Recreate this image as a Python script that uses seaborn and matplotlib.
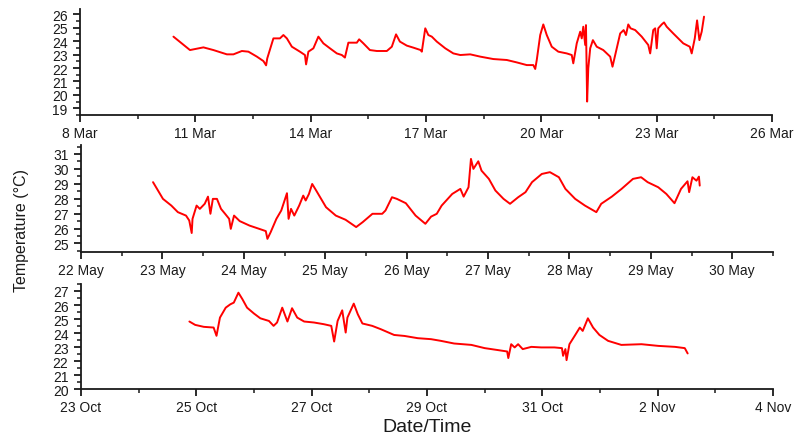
import numpy as np
import pandas as pd
import matplotlib
matplotlib.use("Agg")
import matplotlib.pyplot as plt
import matplotlib.dates as mdates
from matplotlib.ticker import FixedLocator, MultipleLocator, FuncFormatter
import seaborn as sns

# ---------------- data (days after panel start date, temperature in degC) -------------
mar_start = "2018-03-08"
mar_days = [2.43, 2.86, 3.21, 3.47, 3.82, 3.99, 4.21, 4.38, 4.60, 4.77,
            4.84, 4.87, 5.03, 5.20, 5.29, 5.38, 5.51, 5.72, 5.85, 5.88,
            5.94, 6.07, 6.20, 6.33, 6.50, 6.68, 6.81, 6.89, 6.98, 7.20,
            7.26, 7.37, 7.54, 7.72, 7.98, 8.11, 8.22, 8.32, 8.50, 8.67,
            8.86, 8.89, 8.98, 9.06, 9.15, 9.28, 9.50, 9.71, 9.89, 10.15,
            10.41, 10.75, 11.10, 11.36, 11.62, 11.79, 11.84, 11.88, 11.97, 12.05,
            12.14, 12.27, 12.44, 12.66, 12.79, 12.83, 12.92, 13.01, 13.05, 13.09,
            13.14, 13.16, 13.19, 13.22, 13.27, 13.34, 13.44, 13.61, 13.79, 13.85,
            13.92, 14.05, 14.14, 14.20, 14.26, 14.32, 14.44, 14.61, 14.78, 14.83,
            14.91, 14.96, 15.00, 15.04, 15.13, 15.19, 15.26, 15.43, 15.69, 15.86,
            15.91, 15.99, 16.05, 16.11, 16.17, 16.23]
mar_temp = [24.34, 23.34, 23.54, 23.34, 23.02, 23.02, 23.27, 23.22, 22.85, 22.52,
            22.20, 22.72, 24.21, 24.21, 24.46, 24.21, 23.59, 23.22, 22.97, 22.27,
            23.22, 23.47, 24.34, 23.84, 23.47, 23.09, 22.97, 22.78, 23.89, 23.89,
            24.14, 23.84, 23.34, 23.27, 23.27, 23.59, 24.51, 23.97, 23.67, 23.52,
            23.34, 23.22, 24.96, 24.46, 24.34, 23.97, 23.47, 23.09, 22.97, 23.02,
            22.85, 22.67, 22.60, 22.42, 22.22, 22.22, 21.93, 22.60, 24.46, 25.25,
            24.46, 23.59, 23.22, 23.09, 22.97, 22.35, 23.84, 24.71, 24.21, 25.08,
            23.72, 25.20, 19.50, 21.98, 23.47, 24.08, 23.59, 23.34, 22.85, 22.10,
            22.97, 24.58, 24.83, 24.46, 25.25, 24.96, 24.83, 24.34, 23.72, 23.09,
            24.83, 24.96, 23.47, 24.96, 25.25, 25.40, 25.08, 24.58, 23.84, 23.59,
            23.09, 24.21, 25.55, 24.08, 24.71, 25.83]

may_start = "2018-05-22"
may_days = [0.885, 1.007, 1.11, 1.19, 1.29, 1.33, 1.36, 1.37, 1.42, 1.46,
            1.52, 1.56, 1.59, 1.62, 1.67, 1.72, 1.77, 1.82, 1.84, 1.88,
            1.95, 2.07, 2.19, 2.27, 2.29, 2.33, 2.40, 2.46, 2.53, 2.55,
            2.58, 2.62, 2.68, 2.73, 2.76, 2.80, 2.84, 2.89, 3.01, 3.13,
            3.25, 3.38, 3.46, 3.58, 3.70, 3.74, 3.82, 3.88, 3.99, 4.11,
            4.23, 4.30, 4.37, 4.43, 4.56, 4.66, 4.70, 4.76, 4.79, 4.82,
            4.88, 4.92, 5.01, 5.09, 5.19, 5.27, 5.37, 5.46, 5.54, 5.66,
            5.76, 5.87, 5.95, 6.07, 6.19, 6.33, 6.39, 6.52, 6.64, 6.78,
            6.88, 6.96, 7.09, 7.19, 7.29, 7.37, 7.45, 7.47, 7.51, 7.56,
            7.59, 7.60]
may_temp = [29.11, 27.99, 27.54, 27.10, 26.87, 26.54, 25.70, 26.65, 27.54, 27.32,
            27.66, 28.14, 26.99, 27.99, 27.99, 27.32, 26.99, 26.65, 25.98, 26.87,
            26.50, 26.20, 25.98, 25.83, 25.31, 25.76, 26.65, 27.21, 28.37, 26.65,
            27.32, 26.87, 27.54, 28.21, 27.88, 28.32, 28.99, 28.54, 27.43, 26.87,
            26.59, 26.10, 26.43, 26.99, 26.99, 27.21, 28.10, 27.99, 27.70, 26.87,
            26.32, 26.80, 26.99, 27.54, 28.32, 28.66, 28.14, 28.77, 30.67, 30.00,
            30.51, 29.88, 29.33, 28.55, 27.99, 27.66, 28.10, 28.44, 29.11, 29.66,
            29.78, 29.44, 28.66, 27.99, 27.54, 27.10, 27.66, 28.14, 28.66, 29.33,
            29.44, 29.11, 28.77, 28.32, 27.70, 28.66, 29.17, 28.44, 29.44, 29.21,
            29.48, 28.88]

oct_start = "2018-10-23"
oct_days = [1.88, 1.98, 2.13, 2.30, 2.35, 2.41, 2.51, 2.59, 2.65, 2.73,
            2.80, 2.88, 3.00, 3.11, 3.26, 3.34, 3.40, 3.49, 3.58, 3.66,
            3.75, 3.87, 4.04, 4.21, 4.34, 4.39, 4.45, 4.53, 4.59, 4.62,
            4.73, 4.80, 4.88, 5.05, 5.20, 5.43, 5.61, 5.84, 6.07, 6.24,
            6.47, 6.77, 7.00, 7.23, 7.39, 7.41, 7.46, 7.52, 7.58, 7.66,
            7.81, 7.98, 8.21, 8.34, 8.36, 8.40, 8.42, 8.47, 8.56, 8.65,
            8.70, 8.79, 8.88, 8.99, 9.14, 9.37, 9.72, 10.01, 10.30, 10.47,
            10.52]
oct_temp = [24.82, 24.58, 24.44, 24.39, 23.80, 25.10, 25.81, 26.05, 26.17, 26.88,
            26.41, 25.81, 25.39, 25.05, 24.86, 24.51, 24.75, 25.81, 24.82, 25.77,
            25.10, 24.82, 24.75, 24.63, 24.51, 23.39, 24.86, 25.62, 24.03, 25.10,
            26.10, 25.34, 24.68, 24.51, 24.27, 23.86, 23.79, 23.63, 23.56, 23.44,
            23.25, 23.15, 22.92, 22.78, 22.68, 22.21, 23.20, 22.97, 23.20, 22.85,
            23.01, 22.97, 22.97, 22.92, 22.37, 22.85, 22.06, 23.20, 23.79, 24.39,
            24.15, 25.05, 24.39, 23.86, 23.44, 23.15, 23.20, 23.08, 23.01, 22.92,
            22.54]

# y tick values per panel
mar_yticks = [19, 20, 21, 22, 23, 24, 25, 26]
may_yticks = [25, 26, 27, 28, 29, 30, 31]
oct_yticks = [20, 21, 22, 23, 24, 25, 26, 27]

# ---------------- style ----------------
sns.set_theme(style="ticks")
plt.rcParams['font.family'] = ['Liberation Sans', 'DejaVu Sans']
ink = "#1a1a1a"
plt.rcParams.update({
    "axes.edgecolor": ink, "xtick.color": ink, "ytick.color": ink,
    "axes.linewidth": 1.3,
    "xtick.major.width": 1.3, "ytick.major.width": 1.3,
    "xtick.minor.width": 1.1, "ytick.minor.width": 1.1,
    "xtick.major.size": 5, "ytick.major.size": 5,
    "xtick.minor.size": 2.6, "ytick.minor.size": 2.6,
})

fig = plt.figure(figsize=(7.97, 4.39), dpi=100)

def make_df(start, days, temps):
    t = pd.Timestamp(start) + pd.to_timedelta(np.array(days), unit="D")
    return pd.DataFrame({"time": t, "temp": temps})

def day_fmt(x, pos=None):
    d = mdates.num2date(x)
    return f"{d.day} {d.strftime('%b')}"

panels = [
    dict(df=make_df(mar_start, mar_days, mar_temp), rect=[0.1004, 0.7358, 0.8683, 0.2414],
         xlim=("2018-03-08", "2018-03-26"), major="3D", minor="36h",
         ylim=(18.5, 26.4), yticks=mar_yticks),
    dict(df=make_df(may_start, may_days, may_temp), rect=[0.1016, 0.4244, 0.8683, 0.2430],
         xlim=("2018-05-22", "2018-05-30 12:00"), major="1D", minor="12h",
         ylim=(24.45, 31.6), yticks=may_yticks),
    dict(df=make_df(oct_start, oct_days, oct_temp), rect=[0.1016, 0.1116, 0.8683, 0.2392],
         xlim=("2018-10-23", "2018-11-04"), major="2D", minor="1D",
         ylim=(20.0, 27.5), yticks=oct_yticks),
]

for p in panels:
    ax = fig.add_axes(p["rect"])
    sns.lineplot(data=p["df"], x="time", y="temp", ax=ax, color="#ff0000",
                 linewidth=1.4, estimator=None, sort=False)
    x0, x1 = pd.Timestamp(p["xlim"][0]), pd.Timestamp(p["xlim"][1])
    ax.set_xlim(x0, x1)
    ax.set_ylim(*p["ylim"])
    majors = mdates.date2num(pd.date_range(x0, x1, freq=p["major"]).to_pydatetime())
    minors = mdates.date2num(pd.date_range(x0, x1, freq=p["minor"]).to_pydatetime())
    ax.xaxis.set_major_locator(FixedLocator(majors))
    ax.xaxis.set_minor_locator(FixedLocator(minors))
    ax.xaxis.set_major_formatter(FuncFormatter(day_fmt))
    ax.set_yticks(p["yticks"])
    ax.yaxis.set_minor_locator(MultipleLocator(0.5))
    ax.tick_params(axis="x", which="both", direction="out", labelsize=10, pad=3)
    ax.tick_params(axis="y", which="both", direction="out", labelsize=10, pad=4)
    ax.tick_params(axis="x", which="both", top=False)
    ax.tick_params(axis="y", which="both", right=False)
    sns.despine(ax=ax)
    ax.set_xlabel("")
    ax.set_ylabel("")
    ax.patch.set_alpha(0)
    for lab in ax.get_xticklabels() + ax.get_yticklabels():
        lab.set_color(ink)

fig.text(0.027, 0.474, "Temperature (°C)", rotation=90, ha="center", va="center",
         fontsize=11.5, color=ink)
fig.text(0.536, 0.027, "Date/Time", ha="center", va="center", fontsize=14, color=ink)

fig.savefig("out.png", dpi=100, facecolor="white")
